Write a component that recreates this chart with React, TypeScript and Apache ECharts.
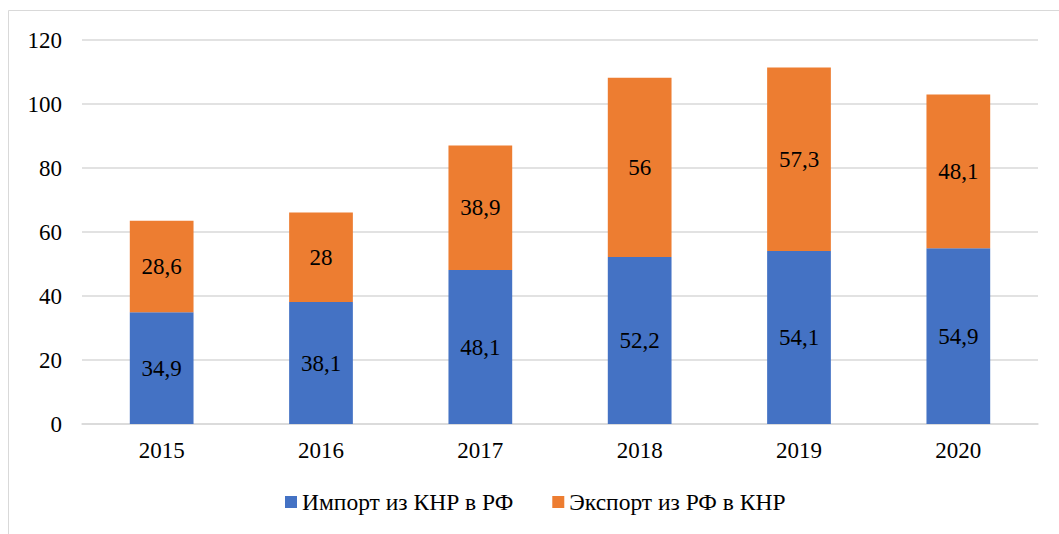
import React, { useEffect, useRef } from "react";
import * as echarts from "echarts";

const categories = ["2015", "2016", "2017", "2018", "2019", "2020"];
const importValues = [34.9, 38.1, 48.1, 52.2, 54.1, 54.9];
const exportValues = [28.6, 28, 38.9, 56, 57.3, 48.1];
const seriesNames = ["Импорт из КНР в РФ", "Экспорт из РФ в КНР"];

const FONT = "Liberation Serif";
const fmt = (v: number) => String(v).replace(".", ",");

export default function App() {
  const ref = useRef<HTMLDivElement>(null);
  useEffect(() => {
    if (!ref.current) return;
    const chart = echarts.init(ref.current, undefined, { renderer: "svg" });
    const labelStyle = {
      show: true,
      position: "inside" as const,
      color: "#000",
      fontFamily: FONT,
      fontSize: 23,
      formatter: (p: any) => fmt(p.value),
    };
    chart.setOption({
      animation: false,
      backgroundColor: "#fff",
      textStyle: { fontFamily: FONT },
      graphic: [
        { type: "line", shape: { x1: 8.5, y1: 10.5, x2: 1059, y2: 10.5 }, style: { stroke: "#d9d9d9", lineWidth: 1 } },
        { type: "line", shape: { x1: 8.5, y1: 10.5, x2: 8.5, y2: 534 }, style: { stroke: "#d9d9d9", lineWidth: 1 } },
      ],
      grid: { left: 82, right: 21, top: 40, bottom: 110 },
      legend: {
        left: 285,
        top: 490,
        padding: 0,
        itemWidth: 12,
        itemHeight: 12,
        itemGap: 39,
        icon: "rect",
        textStyle: { fontFamily: FONT, fontSize: 23.5, color: "#000" },
        data: seriesNames,
      },
      xAxis: {
        type: "category",
        data: categories,
        axisLine: { lineStyle: { color: "#d9d9d9", width: 1.5 } },
        axisTick: { show: false },
        axisLabel: { color: "#000", fontFamily: FONT, fontSize: 23, margin: 15 },
      },
      yAxis: {
        type: "value",
        min: 0,
        max: 120,
        interval: 20,
        axisLine: { show: false },
        axisTick: { show: false },
        splitLine: { lineStyle: { color: "#d9d9d9", width: 1.5 } },
        axisLabel: { color: "#000", fontFamily: FONT, fontSize: 23, margin: 20 },
      },
      series: [
        {
          name: seriesNames[0],
          type: "bar",
          stack: "total",
          barWidth: "40%",
          data: importValues,
          itemStyle: { color: "#4472C4" },
          label: labelStyle,
        },
        {
          name: seriesNames[1],
          type: "bar",
          stack: "total",
          barWidth: "40%",
          data: exportValues,
          itemStyle: { color: "#ED7D31" },
          label: labelStyle,
        },
      ],
    });
    return () => chart.dispose();
  }, []);
  return (
    <div
      ref={ref}
      style={{ position: "absolute", left: 0, top: 0, width: 1059, height: 534 }}
    />
  );
}
